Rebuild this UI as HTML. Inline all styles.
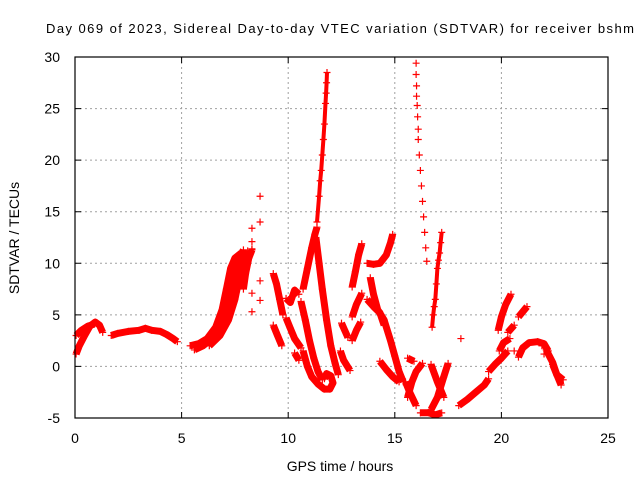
<!DOCTYPE html>
<html><head><meta charset="utf-8"><style>
html,body{margin:0;padding:0;background:#fff;}
svg{display:block;font-family:"Liberation Sans",Arial,sans-serif;}
</style></head><body>
<svg id="chart" width="640" height="480" viewBox="0 0 640 480">
<rect x="0" y="0" width="640" height="480" fill="#fff"/>
<text x="340" y="33" text-anchor="middle" font-size="13" textLength="588">Day 069 of 2023, Sidereal Day-to-day VTEC variation (SDTVAR) for receiver bshm</text>
<g id="grid"></g>
<g id="marks"></g>
<g id="axes"></g>
<text x="340" y="471" text-anchor="middle" font-size="14">GPS time / hours</text>
<text transform="translate(19,238) rotate(-90)" text-anchor="middle" font-size="14">SDTVAR / TECUs</text>
</svg>
<script>
const xTicks = [0,5,10,15,20,25];
const yTicks = [-5,0,5,10,15,20,25,30];
// dense tracks: [hour, value]
const trackA1 = [[0.05,1.2],[0.2,2.0],[0.45,3.0],[0.7,3.9],[0.95,4.3],[1.15,4.0],[1.3,3.3]];
const trackA2 = [[0.05,3.0],[0.3,3.5],[0.6,3.9],[0.9,4.1]];
const trackB = [[1.7,3.0],[2.0,3.2],[2.5,3.4],[3.0,3.5],[3.3,3.7],[3.6,3.5],[4.0,3.4],[4.3,3.1],[4.6,2.7],[4.8,2.4]];
const trackC1 = [[5.4,2.0],[5.8,2.2],[6.2,2.7],[6.6,3.8],[6.9,5.5],[7.1,7.5],[7.3,9.5],[7.5,10.5],[7.8,11.0]];
const trackC2 = [[5.6,1.6],[6.0,2.0],[6.5,2.8],[6.9,4.2],[7.2,6.5],[7.4,8.5],[7.6,10.0],[7.9,11.3]];
const trackC3 = [[6.3,2.0],[6.8,3.0],[7.2,4.5],[7.5,6.5],[7.7,8.5],[7.9,10.0],[8.1,11.2]];
const trackC4 = [[7.9,7.5],[8.0,9.0],[8.15,10.5],[8.3,11.3]];
const trackD1 = [[9.3,9.0],[9.45,8.0],[9.6,6.5],[9.75,5.0]];
const trackD2 = [[9.3,4.0],[9.5,3.0],[9.7,2.0]];
const trackD3 = [[9.9,6.6],[10.1,6.2],[10.3,7.4],[10.5,7.0]];
const trackD4 = [[9.9,4.7],[10.1,3.7],[10.3,2.7],[10.6,1.8]];
const trackD5 = [[10.3,1.3],[10.5,0.6]];
const trackE1 = [[10.6,6.3],[10.8,4.5],[11.0,2.5],[11.2,0.8],[11.4,-0.5],[11.6,-1.3]];
const trackE2 = [[10.7,1.5],[10.9,0],[11.1,-1.0],[11.4,-1.7],[11.7,-2.2],[11.95,-2.2],[12.1,-1.6],[12.0,-0.9],[11.8,-0.7],[11.7,-1.2]];
const trackE3 = [[10.7,7.5],[10.9,9.5],[11.1,11.5],[11.25,12.8],[11.35,13.5]];
const trackE4 = [[11.3,12.5],[11.45,10],[11.6,7.5],[11.8,4.5],[12.0,2.0],[12.2,0.3],[12.35,-0.8]];
const trackE6 = [[12.5,4.2],[12.8,2.8]];
const trackE7 = [[12.45,1.5],[12.6,0.6],[12.9,-0.4]];
const trackF1 = [[13.0,7.7],[13.15,9.2],[13.3,10.8],[13.45,11.9]];
const trackF2 = [[13.0,4.8],[13.2,6.0],[13.45,7.1]];
const trackF3 = [[13.0,2.5],[13.2,3.5],[13.4,4.3]];
const trackG = [[13.7,10.0],[14.0,9.9],[14.3,10.0],[14.6,10.8],[14.8,12.0],[14.9,12.8]];
const trackH1 = [[13.85,8.6],[14.0,7.0],[14.2,5.5],[14.5,4.5],[14.8,2.5],[15.0,1.0],[15.2,-0.5],[15.4,-1.5]];
const trackH2 = [[13.7,6.5],[14.0,5.8],[14.3,5.2],[14.5,4.0]];
const trackH3 = [[14.3,0.5],[14.6,-0.3],[14.9,-1.0],[15.2,-1.5]];
const trackH4 = [[15.6,0.8],[15.9,0.5]];
const trackI1 = [[15.5,-1.5],[15.7,-2.5],[16.0,-3.8]];
const trackI2 = [[15.6,-3.0],[15.8,-1.5],[16.0,-0.5],[16.3,0.3]];
const trackI3 = [[16.7,0.2],[17.0,-1.5],[17.3,-3.0]];
const trackI4 = [[16.7,-4.2],[17.0,-3.0],[17.3,-1.0],[17.5,0.3]];
const trackI5 = [[16.2,-4.5],[16.6,-4.5],[16.9,-4.7],[17.2,-4.5]];
const trackL1 = [[18.0,-3.8],[18.4,-3.2],[18.8,-2.5],[19.2,-1.8],[19.4,-1.2]];
const trackL2 = [[19.4,-0.5],[19.7,0.2],[20.0,0.8],[20.3,1.5]];
const trackL3 = [[19.9,1.5],[20.1,2.3],[20.4,2.7]];
const trackL4 = [[19.85,3.5],[20.0,4.8],[20.2,6.0],[20.45,7.0]];
const trackL5 = [[20.3,3.3],[20.6,4.0]];
const trackL6 = [[20.8,4.8],[21.2,5.8]];
const trackL7 = [[20.8,0.9],[21.0,1.8],[21.3,2.3],[21.7,2.4],[22.0,2.2],[22.2,1.5]];
const trackL8 = [[22.1,1.6],[22.4,0.4],[22.6,-0.8],[22.8,-1.8]];
const trackL9 = [[22.4,0.2],[22.6,-0.8],[22.9,-1.3]];
// narrow dense tracks (stacked + columns)
const spike12 = [[11.35,14],[11.45,16.5],[11.5,18],[11.55,19],[11.6,20.5],[11.65,22],[11.7,23.5],[11.75,25.5],[11.78,26.5],[11.8,27.5],[11.82,28.5]];
const rise17 = [[16.75,3.8],[16.8,5.0],[16.85,5.8],[16.9,6.5],[16.95,8.0],[17.0,9.5],[17.05,10.3],[17.1,11.0],[17.15,12.0],[17.2,13.0]];
// sparse tracks (isolated + marks)
const sparseSpike16 = [[16.0,29.4],[16.0,28.3],[16.02,27.2],[16.02,26.2],[16.05,25.3],[16.07,24.2],[16.1,23.0],[16.1,22.0],[16.15,20.5],[16.2,19.0],[16.25,17.5],[16.3,16.0],[16.35,14.5],[16.4,13.0],[16.45,11.5],[16.5,10.2]];
const sparseScatter = [[8.68,16.5],[8.68,14.0],[8.3,13.4],[8.3,12.1],[8.3,11.4],[8.68,8.3],[8.3,7.1],[8.68,6.4],[8.3,5.3],[18.1,2.7],[20.6,1.5],[21.9,2.0],[22.0,1.2]];

const denseTracks = [trackA1,trackA2,trackB,trackC1,trackC2,trackC3,trackC4,trackD1,trackD2,trackD3,trackD4,trackD5,trackE1,trackE2,trackE3,trackE4,trackE6,trackE7,trackF1,trackF2,trackF3,trackG,trackH1,trackH2,trackH3,trackH4,trackI1,trackI2,trackI3,trackI4,trackI5,trackL1,trackL2,trackL3,trackL4,trackL5,trackL6,trackL7,trackL8,trackL9];
const narrowTracks = [spike12, rise17];
const sparseTracks = [sparseSpike16,sparseScatter];

const L=75,R=608,T=57,B=418;
const xs = h => L + (h-0)/(25-0)*(R-L);
const ys = v => B - (v-(-5))/(30-(-5))*(B-T);
const NS="http://www.w3.org/2000/svg";
function mk(tag, attrs, parent){const e=document.createElementNS(NS,tag);for(const k in attrs)e.setAttribute(k,attrs[k]);parent.appendChild(e);return e;}
const grid=document.getElementById('grid'), axes=document.getElementById('axes'), marks=document.getElementById('marks');

xTicks.forEach(t=>{
  const x=xs(t);
  if(t>0&&t<25){const g=mk('line',{x1:x,y1:T,x2:x,y2:B,stroke:'#a0a0a0','stroke-dasharray':'2,3','stroke-width':1},grid);
  
  }
  const tk=mk('path',{d:`M${x},${B}v-6M${x},${T}v6`,stroke:'#000','stroke-width':1},axes);
  
  
  const lb=mk('text',{x:x,y:B+25,'text-anchor':'middle','font-size':14},axes);
  lb.textContent=t;
  
  
});
yTicks.forEach(t=>{
  const y=ys(t);
  if(t>-5&&t<30){const g=mk('line',{x1:L,y1:y,x2:R,y2:y,stroke:'#a0a0a0','stroke-dasharray':'2,3','stroke-width':1},grid);
  
  }
  const tk=mk('path',{d:`M${L},${y}h6M${R},${y}h-6`,stroke:'#000','stroke-width':1},axes);
  
  
  const lb=mk('text',{x:L-15,y:y+5,'text-anchor':'end','font-size':14},axes);
  lb.textContent=t;
  
  
});
const border=mk('rect',{x:L,y:T,width:R-L,height:B-T,fill:'none',stroke:'#000','stroke-width':1.2},axes);



function plus(h,v){
  const x=xs(h), y=ys(v);
  const p=mk('path',{d:`M${x-3.5},${y}h7M${x},${y-3.5}v7`,stroke:'#f00','stroke-width':1.2},marks);
  
  
}
function track(tr, w){
  const d=tr.map((p,i)=>(i?'L':'M')+xs(p[0]).toFixed(1)+','+ys(p[1]).toFixed(1)).join('');
  const pl=mk('path',{d:d,fill:'none',stroke:'#f00','stroke-width':w,'stroke-linejoin':'round','stroke-linecap':'butt'},marks);
  
  
  tr.forEach(p=>plus(p[0],p[1]));
}
denseTracks.forEach(tr=>track(tr,7));
narrowTracks.forEach(tr=>track(tr,4));
sparseTracks.forEach(tr=>tr.forEach(p=>plus(p[0],p[1])));
</script>
</body></html>
